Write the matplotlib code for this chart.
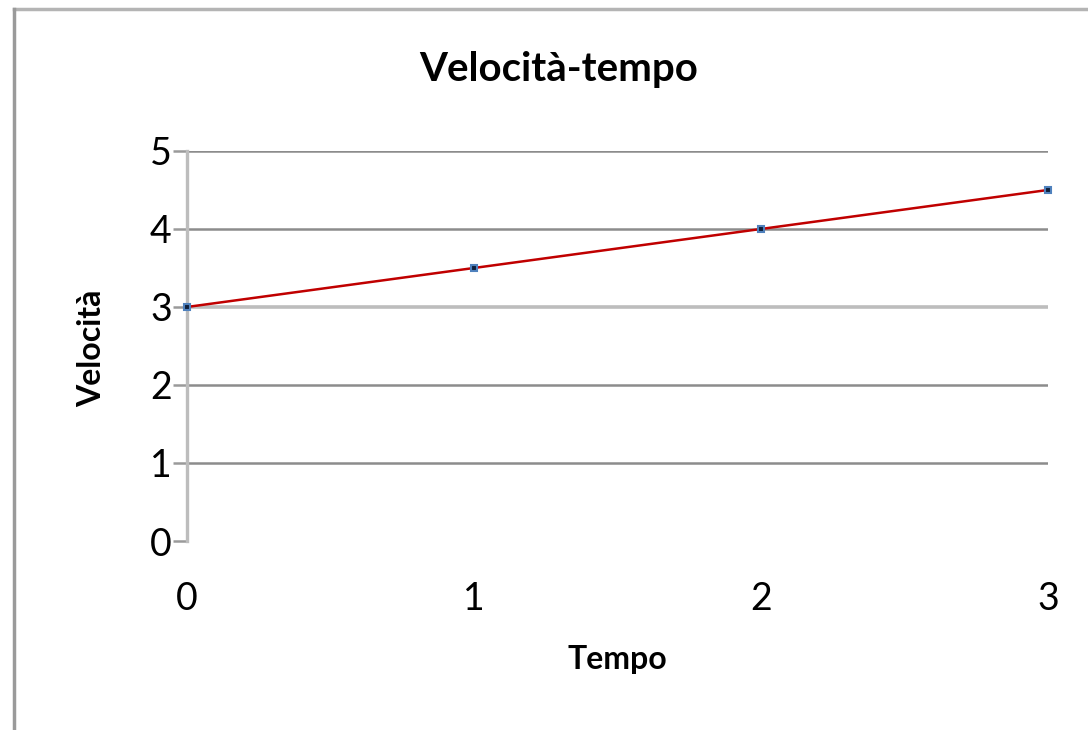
import matplotlib
matplotlib.use("Agg")
import matplotlib.pyplot as plt
from matplotlib.lines import Line2D

# data
tempo = [0, 1, 2, 3]
velocita = [3.0, 3.5, 4.0, 4.5]
y_ticks = [0, 1, 2, 3, 4, 5]
x_ticks = [0, 1, 2, 3]

plt.rcParams["font.family"] = ["Lato", "DejaVu Sans"]

fig = plt.figure(figsize=(10.88, 7.3), dpi=100)
ax = fig.add_axes([0.1719, 0.2589, 0.9632 - 0.1719, 0.7932 - 0.2589])

# outer chart frame (top and left edges visible in the reference)
fig.add_artist(Line2D([0.0125, 1.0], [0.9875, 0.9875], transform=fig.transFigure, color="#b4b4b4", lw=2.5))
fig.add_artist(Line2D([0.0125, 0.0125], [0.0, 0.9875], transform=fig.transFigure, color="#9a9a9a", lw=2.5))

# gridlines
for yv in y_ticks[1:]:
    if yv == 3:
        ax.axhline(yv, color="#bdbdbd", lw=2.6, zorder=1)
    else:
        ax.axhline(yv, color="#8c8c8c", lw=1.8, zorder=1)

ax.plot(tempo, velocita, color="#c00000", lw=1.8, zorder=3)
ax.plot(tempo, velocita, ls="none", marker="s", markersize=5, markerfacecolor="#0f1f3a",
        markeredgecolor="#4f81bd", markeredgewidth=1.5, zorder=4, clip_on=False)

ax.set_xlim(0, 3)
ax.set_ylim(0, 5)
ax.set_xticks(x_ticks)
ax.set_yticks(y_ticks)

for s in ["top", "right", "bottom"]:
    ax.spines[s].set_visible(False)
ax.spines["left"].set_color("#bdbdbd")
ax.spines["left"].set_linewidth(2.4)

ax.tick_params(axis="y", length=10, width=1.8, color="#9a9a9a", pad=1, labelsize=27)
ax.tick_params(axis="x", length=0, pad=29, labelsize=27)

fig.text(559 / 1088, 1 - 70 / 730, "Velocità-tempo", fontsize=29, fontweight="bold",
         ha="center", va="center")
fig.text(617 / 1088, 1 - 660 / 730, "Tempo", fontsize=23, fontweight="bold",
         ha="center", va="center")
fig.text(92 / 1088, 1 - 348 / 730, "Velocità", fontsize=23, fontweight="bold",
         ha="center", va="center", rotation=90)

fig.savefig("out.png", dpi=100)
